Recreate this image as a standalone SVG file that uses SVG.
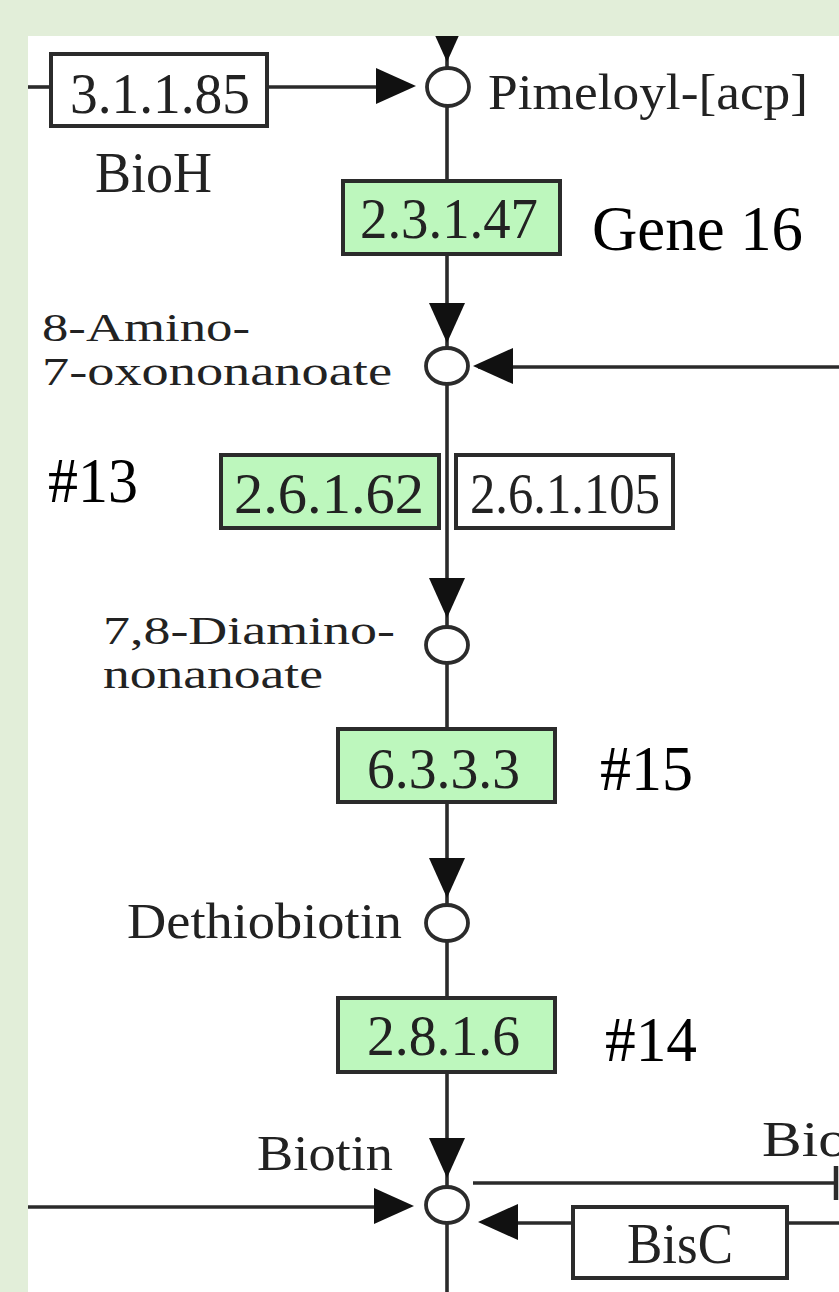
<svg xmlns="http://www.w3.org/2000/svg" width="839" height="1292" viewBox="0 0 839 1292">
<style>
.ln{stroke:#2b2b2b;stroke-width:3.6;fill:none}
.box{stroke:#2b2b2b;stroke-width:4}
.g{fill:#bdf7bd}
.w{fill:#ffffff}
.cpd{fill:#ffffff;stroke:#2b2b2b;stroke-width:3.8}
.k{font-family:"Liberation Serif","DejaVu Serif",serif;fill:#222222}
.ec{font-size:56px}
.nm{font-size:50px}
.nm2{font-size:41px}
.note{font-family:"Liberation Serif","Times New Roman",serif;fill:#000;font-size:63px}
.ah{fill:#111}
</style>
<defs>
<path id="arr" d="M0,0 L-40,-18 L-40,18 Z"/>
</defs>
<rect x="0" y="0" width="839" height="1292" fill="#ffffff"/>

<g id="connectors">
<line class="ln" x1="447" y1="30" x2="447" y2="1292"/>
<line class="ln" x1="28" y1="87" x2="52" y2="87"/>
<line class="ln" x1="266" y1="87" x2="380" y2="87"/>
<line class="ln" x1="478" y1="367" x2="839" y2="367"/>
<line class="ln" x1="28" y1="1207" x2="380" y2="1207"/>
<line class="ln" x1="473" y1="1183" x2="836" y2="1183"/>
<line class="ln" x1="836" y1="1166" x2="836" y2="1200" style="stroke-width:4.5"/>
<line class="ln" x1="490" y1="1223" x2="573" y2="1223"/>
<line class="ln" x1="787" y1="1223" x2="839" y2="1223"/>
<use href="#arr" class="ah" transform="translate(447,62) rotate(90)"/>
<use href="#arr" class="ah" transform="translate(416,86)"/>
<use href="#arr" class="ah" transform="translate(447,343) rotate(90)"/>
<use href="#arr" class="ah" transform="translate(473,366) rotate(180)"/>
<use href="#arr" class="ah" transform="translate(447,618) rotate(90)"/>
<use href="#arr" class="ah" transform="translate(447,898) rotate(90)"/>
<use href="#arr" class="ah" transform="translate(447,1178) rotate(90)"/>
<use href="#arr" class="ah" transform="translate(414,1206)"/>
<use href="#arr" class="ah" transform="translate(478,1222) rotate(180)"/>
</g>

<g id="ec3.1.1.85">
<rect class="box w" x="51" y="54" width="216" height="72"/>
<text class="k ec" x="70" y="113" textLength="180" lengthAdjust="spacingAndGlyphs">3.1.1.85</text>
</g>
<g id="BioH"><text class="k ec" x="95" y="192" textLength="117" lengthAdjust="spacingAndGlyphs">BioH</text></g>

<g id="pimeloyl">
<ellipse class="cpd" cx="448" cy="87" rx="21" ry="19"/>
<text class="k nm" x="488" y="109" textLength="320" lengthAdjust="spacingAndGlyphs">Pimeloyl-[acp]</text>
</g>

<g id="ec2.3.1.47">
<rect class="box g" x="343" y="181" width="217" height="73"/>
<text class="k ec" x="360" y="238" textLength="178" lengthAdjust="spacingAndGlyphs">2.3.1.47</text>
</g>
<g id="gene16"><text class="note" x="592" y="250" textLength="211" lengthAdjust="spacingAndGlyphs">Gene 16</text></g>

<g id="aminooxo">
<ellipse class="cpd" cx="447" cy="366" rx="21" ry="18"/>
<text class="k nm2" x="42" y="341" textLength="208" lengthAdjust="spacingAndGlyphs">8-Amino-</text>
<text class="k nm2" x="42" y="385" textLength="350" lengthAdjust="spacingAndGlyphs">7-oxononanoate</text>
</g>

<g id="n13"><text class="note" x="48" y="502" textLength="90" lengthAdjust="spacingAndGlyphs">#13</text></g>

<g id="ec2.6.1.62">
<rect class="box g" x="221" y="455" width="218" height="73"/>
<text class="k ec" x="234" y="513" textLength="190" lengthAdjust="spacingAndGlyphs">2.6.1.62</text>
</g>
<g id="ec2.6.1.105">
<rect class="box w" x="456" y="455" width="217" height="73"/>
<text class="k ec" x="470" y="513" textLength="190" lengthAdjust="spacingAndGlyphs">2.6.1.105</text>
</g>

<g id="diamino">
<ellipse class="cpd" cx="447" cy="645" rx="21" ry="18"/>
<text class="k nm2" x="103" y="644" textLength="292" lengthAdjust="spacingAndGlyphs">7,8-Diamino-</text>
<text class="k nm2" x="103" y="688" textLength="220" lengthAdjust="spacingAndGlyphs">nonanoate</text>
</g>

<g id="ec6.3.3.3">
<rect class="box g" x="338" y="729" width="217" height="73"/>
<text class="k ec" x="367" y="788" textLength="153" lengthAdjust="spacingAndGlyphs">6.3.3.3</text>
</g>
<g id="n15"><text class="note" x="600" y="790" textLength="93" lengthAdjust="spacingAndGlyphs">#15</text></g>

<g id="dethiobiotin">
<ellipse class="cpd" cx="447" cy="923" rx="21" ry="18"/>
<text class="k nm" x="127" y="938" textLength="275" lengthAdjust="spacingAndGlyphs">Dethiobiotin</text>
</g>

<g id="ec2.8.1.6">
<rect class="box g" x="338" y="998" width="217" height="74"/>
<text class="k ec" x="367" y="1055" textLength="153" lengthAdjust="spacingAndGlyphs">2.8.1.6</text>
</g>
<g id="n14"><text class="note" x="605" y="1061" textLength="92" lengthAdjust="spacingAndGlyphs">#14</text></g>

<g id="biotin">
<ellipse class="cpd" cx="447" cy="1205" rx="21" ry="18"/>
<text class="k nm" x="257" y="1170" textLength="136" lengthAdjust="spacingAndGlyphs">Biotin</text>
</g>
<g id="bio"><text class="k nm" x="762" y="1156" textLength="86" lengthAdjust="spacingAndGlyphs">Bio</text></g>

<g id="BisC">
<rect class="box w" x="573" y="1207" width="214" height="71"/>
<text class="k ec" x="627" y="1263" textLength="106" lengthAdjust="spacingAndGlyphs">BisC</text>
</g>

<path d="M0,0 H839 V1292 H0 Z M28,36 V1292 H839 V36 Z" fill="#e2eed9" fill-rule="evenodd"/>
</svg>
